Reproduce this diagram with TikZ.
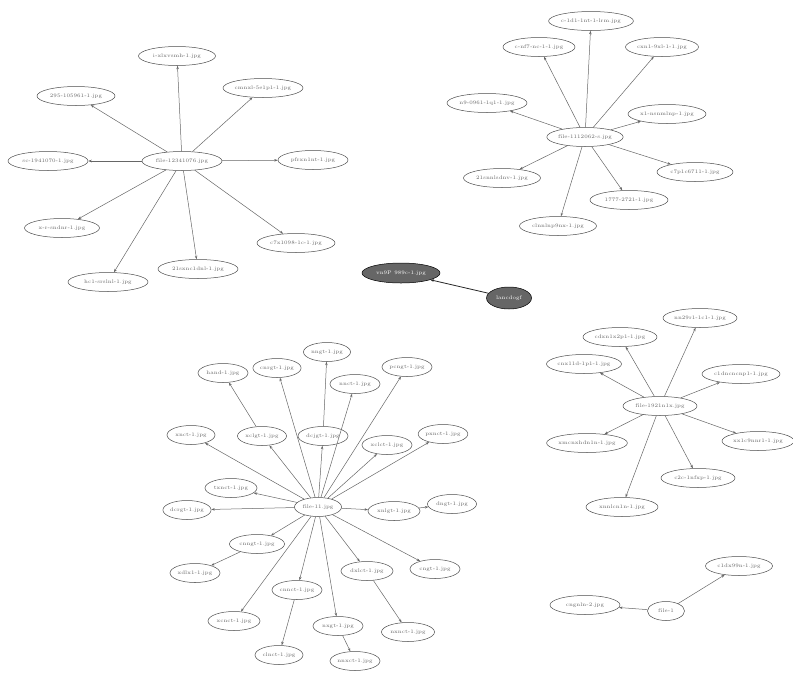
\documentclass[tikz,border=0pt]{standalone}
\usetikzlibrary{shapes.geometric,arrows.meta}
\begin{document}
\begin{tikzpicture}[x=1pt,y=-1pt,
  nd/.style={ellipse,draw=black!70,line width=0.5pt,inner sep=0pt,minimum height=19pt,
    font=\fontsize{5.2}{6}\selectfont,text=black!60},
  dk/.style={nd,fill=black!60,draw=black,text=white},
  edge/.style={draw=black!60,line width=0.5pt,-{Stealth[length=3.5pt,width=2.5pt]}},
  dedge/.style={edge,black!85,line width=0.8pt}]
\useasboundingbox (0,0) rectangle (793,673);
% ---- cluster 1 (top-left)
\node[nd,minimum width=80pt] (c1) at (182,161) {file-12341076.jpg};
\node[nd,minimum width=77pt] (a1) at (177,56) {i-xlxvsmh-1.jpg};
\node[nd,minimum width=72pt] (a2) at (263,88) {cmnxl-5e1p1-1.jpg};
\node[nd,minimum width=78pt] (a3) at (76,96) {295-105961-1.jpg};
\node[nd,minimum width=80pt] (a4) at (48,161) {sc-1941070-1.jpg};
\node[nd,minimum width=70pt] (a5) at (313,160) {pfrxn1nt-1.jpg};
\node[nd,minimum width=75pt] (a6) at (62,228) {x-r-sndnr-1.jpg};
\node[nd,minimum width=78pt] (a7) at (296,243) {c7x1098-1c-1.jpg};
\node[nd,minimum width=80pt] (a8) at (108,282) {hc1-srslnl-1.jpg};
\node[nd,minimum width=80pt] (a9) at (198,269) {21sxnc1dnl-1.jpg};
\foreach \t in {a1,a2,a3,a4,a5,a6,a7,a8,a9} \draw[edge] (c1) -- (\t);
% ---- cluster 2 (top-right)
\node[nd,minimum width=75pt] (c2) at (585,137) {file-1112062-s.jpg};
\node[nd,minimum width=78pt] (b1) at (591,21) {c-1d1-1nt-1-lrm.jpg};
\node[nd,minimum width=72pt] (b2) at (539,47) {c-nf7-nc-1-1.jpg};
\node[nd,minimum width=73pt] (b3) at (662,47) {cxn1-9xl-1-1.jpg};
\node[nd,minimum width=80pt] (b4) at (487,103) {n9-0961-1q1-1.jpg};
\node[nd,minimum width=78pt] (b5) at (667,114) {x1-nsnmlnp-1.jpg};
\node[nd,minimum width=77pt] (b6) at (502,178) {21snnlsdnv-1.jpg};
\node[nd,minimum width=76pt] (b7) at (695,172) {c7p1c6711-1.jpg};
\node[nd,minimum width=78pt] (b8) at (629,200) {1777-2721-1.jpg};
\node[nd,minimum width=77pt] (b9) at (558,226) {clnnlnp9nx-1.jpg};
\foreach \t in {b1,b2,b3,b4,b5,b6,b7,b8,b9} \draw[edge] (c2) -- (\t);
% ---- middle dark pair
\node[dk,minimum width=78pt,minimum height=20pt] (m1) at (401,273) {vn9P 989c-1.jpg};
\node[dk,minimum width=45pt,minimum height=22pt] (m2) at (509,298) {lancdogf};
\draw[dedge] (m2) -- (m1);
% ---- cluster 3 (right middle)
\node[nd,minimum width=74pt] (c3) at (660,406) {file-1921n1x.jpg};
\node[nd,minimum width=74pt] (d1) at (700,318) {nn29r1-1c1-1.jpg};
\node[nd,minimum width=74pt] (d2) at (620,337) {cdxn1x2p1-1.jpg};
\node[nd,minimum width=75pt] (d3) at (584,364) {cnx11d-1p1-1.jpg};
\node[nd,minimum width=78pt] (d4) at (741,374) {c1dncncnp1-1.jpg};
\node[nd,minimum width=80pt] (d5) at (587,443) {xmcnxhdn1n-1.jpg};
\node[nd,minimum width=72pt] (d6) at (758,441) {xx1c9nnr1-1.jpg};
\node[nd,minimum width=74pt] (d7) at (698,478) {c2c-1nfxp-1.jpg};
\node[nd,minimum width=72pt] (d8) at (622,507) {xnnlcn1n-1.jpg};
\foreach \t in {d1,d2,d3,d4,d5,d6,d7,d8} \draw[edge] (c3) -- (\t);
% ---- cluster 5 (bottom-right)
\node[nd,minimum width=37pt] (c5) at (666,611) {file-1};
\node[nd,minimum width=67pt] (e1) at (739,566) {c1dx99n-1.jpg};
\node[nd,minimum width=70pt] (e2) at (585,605) {cngnln-2.jpg};
\draw[edge] (c5) -- (e1);
\draw[edge] (c5) -- (e2);
% ---- cluster 4 (bottom-left)
\node[nd,minimum width=47pt] (c4) at (318,507) {file-11.jpg};
\node[nd,minimum width=50pt] (f1) at (223,373) {hand-1.jpg};
\node[nd,minimum width=45pt] (f2) at (277,368) {cnrgt-1.jpg};
\node[nd,minimum width=47pt] (f3) at (327,352) {nngt-1.jpg};
\node[nd,minimum width=50pt] (f4) at (355,384) {nnct-1.jpg};
\node[nd,minimum width=50pt] (f5) at (407,367) {pcngt-1.jpg};
\node[nd,minimum width=48pt] (f6) at (191,435) {xnct-1.jpg};
\node[nd,minimum width=49pt] (f7) at (262,436) {xclgt-1.jpg};
\node[nd,minimum width=50pt] (f8) at (323,436) {dcjgt-1.jpg};
\node[nd,minimum width=50pt] (f9) at (387,445) {xclct-1.jpg};
\node[nd,minimum width=47pt] (f10) at (443,434) {pxnct-1.jpg};
\node[nd,minimum width=52pt] (f11) at (231,488) {txnct-1.jpg};
\node[nd,minimum width=48pt] (f12) at (187,510) {dcrgt-1.jpg};
\node[nd,minimum width=52pt] (f13) at (394,511) {xnlgt-1.jpg};
\node[nd,minimum width=49pt] (f14) at (452,504) {dngt-1.jpg};
\node[nd,minimum width=55pt] (f15) at (257,544) {cnngt-1.jpg};
\node[nd,minimum width=50pt] (f16) at (195,573) {xdlx1-1.jpg};
\node[nd,minimum width=52pt] (f17) at (367,571) {dxlct-1.jpg};
\node[nd,minimum width=50pt] (f18) at (435,569) {cngt-1.jpg};
\node[nd,minimum width=50pt] (f19) at (297,590) {cnnct-1.jpg};
\node[nd,minimum width=52pt] (f20) at (234,621) {xcnct-1.jpg};
\node[nd,minimum width=50pt] (f21) at (338,626) {nxgt-1.jpg};
\node[nd,minimum width=53pt] (f22) at (408,632) {nxnct-1.jpg};
\node[nd,minimum width=48pt] (f23) at (279,655) {clnct-1.jpg};
\node[nd,minimum width=50pt] (f24) at (355,661) {nnxct-1.jpg};
\foreach \t in {f2,f4,f5,f6,f7,f8,f9,f10,f11,f12,f13,f15,f17,f18,f19,f20,f21} \draw[edge] (c4) -- (\t);
\draw[edge] (f7) -- (f1);
\draw[edge] (f8) -- (f3);
\draw[edge] (f13) -- (f14);
\draw[edge] (f15) -- (f16);
\draw[edge] (f17) -- (f22);
\draw[edge] (f19) -- (f23);
\draw[edge] (f21) -- (f24);
\end{tikzpicture}
\end{document}
